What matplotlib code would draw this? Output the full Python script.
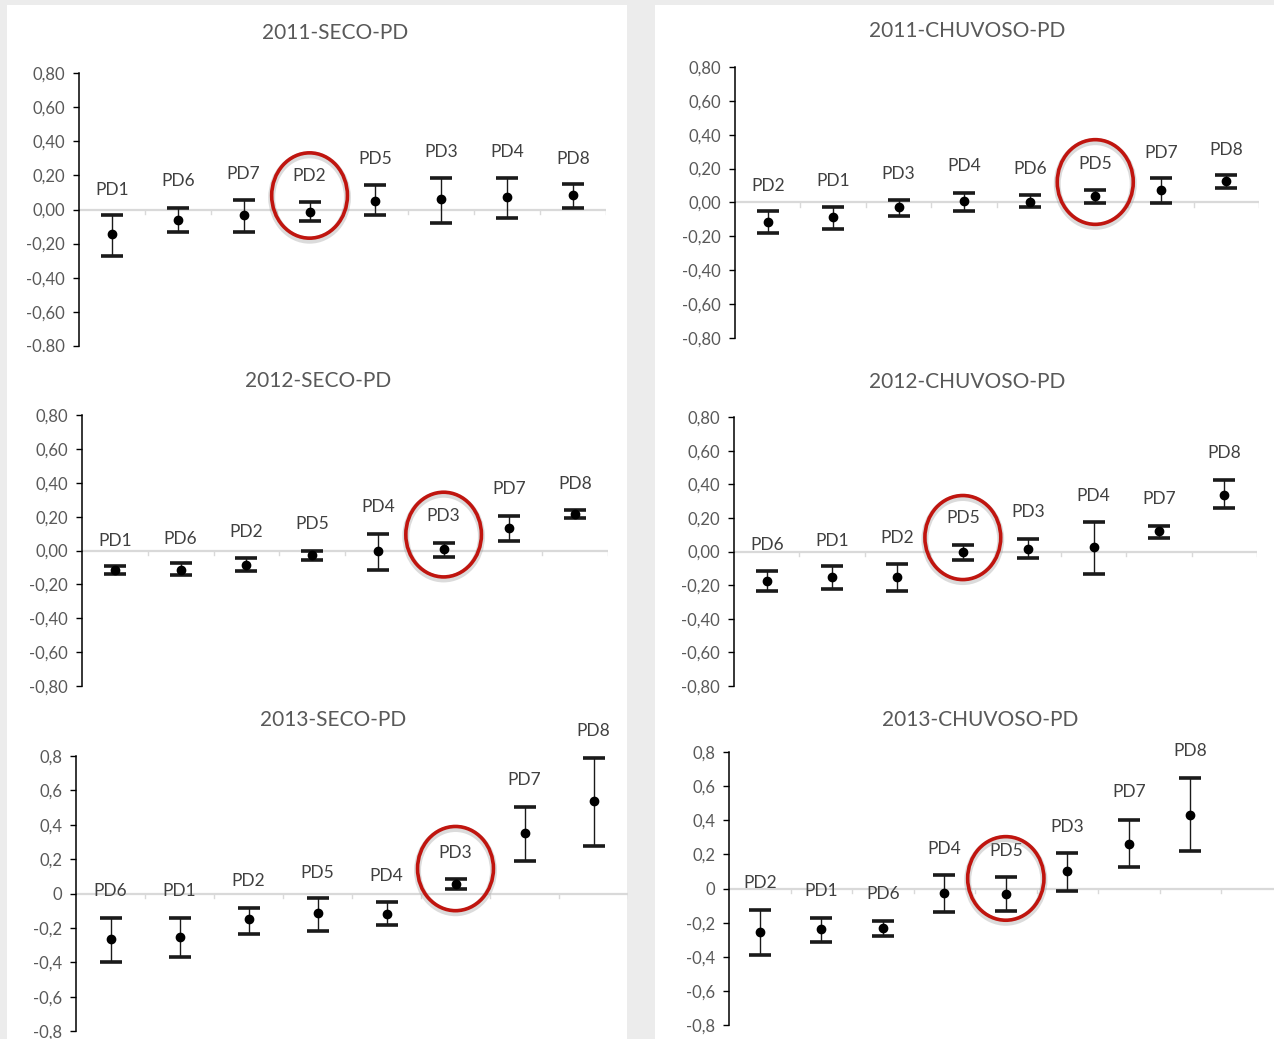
"""PD index (mean with error bars) per sampling point, dry vs. rainy season, 2011-2013.

Six Excel-style panels laid out on a slide: each point's mean is a black dot with
a min/max error bar, the PD label sits above it, and the site of interest is
ringed in red.
"""

import matplotlib

matplotlib.use("Agg")
import matplotlib.pyplot as plt
from matplotlib.patches import Ellipse, Rectangle

plt.rcParams["font.family"] = ["Lato", "DejaVu Sans"]

W, H = 1274, 1039

# ---- data -----------------------------------------------------------------
seco11_pd = ["PD1", "PD6", "PD7", "PD2", "PD5", "PD3", "PD4", "PD8"]
seco11_mean = [-0.146, -0.062, -0.033, -0.014, 0.049, 0.060, 0.074, 0.084]
seco11_hi = [-0.033, 0.008, 0.056, 0.045, 0.144, 0.187, 0.187, 0.152]
seco11_lo = [-0.270, -0.134, -0.134, -0.070, -0.035, -0.078, -0.051, 0.008]

chuv11_pd = ["PD2", "PD1", "PD3", "PD4", "PD6", "PD5", "PD7", "PD8"]
chuv11_mean = [-0.118, -0.087, -0.028, 0.008, 0.004, 0.039, 0.075, 0.126]
chuv11_hi = [-0.053, -0.024, 0.014, 0.057, 0.045, 0.073, 0.146, 0.163]
chuv11_lo = [-0.179, -0.157, -0.077, -0.053, -0.026, -0.002, -0.002, 0.083]

seco12_pd = ["PD1", "PD6", "PD2", "PD5", "PD4", "PD3", "PD7", "PD8"]
seco12_mean = [-0.114, -0.118, -0.083, -0.028, -0.004, 0.010, 0.134, 0.217]
seco12_hi = [-0.091, -0.075, -0.043, 0.000, 0.097, 0.045, 0.203, 0.239]
seco12_lo = [-0.138, -0.144, -0.122, -0.059, -0.114, -0.036, 0.059, 0.193]

chuv12_pd = ["PD6", "PD1", "PD2", "PD5", "PD3", "PD4", "PD7", "PD8"]
chuv12_mean = [-0.173, -0.151, -0.151, -0.004, 0.014, 0.024, 0.121, 0.338]
chuv12_hi = [-0.117, -0.089, -0.072, 0.038, 0.072, 0.177, 0.149, 0.427]
chuv12_lo = [-0.237, -0.221, -0.235, -0.052, -0.038, -0.131, 0.082, 0.256]

seco13_pd = ["PD6", "PD1", "PD2", "PD5", "PD4", "PD3", "PD7", "PD8"]
seco13_mean = [-0.266, -0.252, -0.151, -0.113, -0.118, 0.058, 0.350, 0.538]
seco13_hi = [-0.140, -0.140, -0.082, -0.025, -0.047, 0.082, 0.501, 0.788]
seco13_lo = [-0.398, -0.369, -0.233, -0.217, -0.184, 0.025, 0.188, 0.274]

chuv13_pd = ["PD2", "PD1", "PD6", "PD4", "PD5", "PD3", "PD7", "PD8"]
chuv13_mean = [-0.254, -0.240, -0.232, -0.029, -0.031, 0.101, 0.263, 0.429]
chuv13_hi = [-0.127, -0.172, -0.189, 0.078, 0.068, 0.207, 0.402, 0.648]
chuv13_lo = [-0.392, -0.314, -0.279, -0.139, -0.131, -0.012, 0.127, 0.219]

y_ticks = [0.8, 0.6, 0.4, 0.2, 0.0, -0.2, -0.4, -0.6, -0.8]
ticks_2dec = ["0,80", "0,60", "0,40", "0,20", "0,00", "-0,20", "-0,40", "-0,60", "-0,80"]
ticks_2dec_dot = ticks_2dec[:-1] + ["-0.80"]
ticks_1dec = ["0,8", "0,6", "0,4", "0,2", "0", "-0,2", "-0,4", "-0,6", "-0,8"]

# ---- layout (pixels) ------------------------------------------------------
# heights of the PD data labels, in data units
seco11_lab_y = [0.117, 0.165, 0.206, 0.196, 0.294, 0.337, 0.337, 0.298]
chuv11_lab_y = [0.098, 0.128, 0.171, 0.217, 0.197, 0.230, 0.295, 0.309]
seco12_lab_y = [0.059, 0.069, 0.112, 0.154, 0.256, 0.203, 0.365, 0.394]
chuv12_lab_y = [0.040, 0.064, 0.083, 0.197, 0.233, 0.332, 0.312, 0.584]
seco13_lab_y = [0.016, 0.016, 0.072, 0.122, 0.103, 0.233, 0.660, 0.946]
chuv13_lab_y = [0.033, -0.012, -0.035, 0.234, 0.222, 0.359, 0.564, 0.804]

panels = [
    # title, cats, mean, lo, hi, label y, tick labels, (left, right, top, bottom) px,
    # n slots on x, title (x, y) px, ring (index, y centre, width, height)
    ("2011-SECO-PD", seco11_pd, seco11_mean, seco11_lo, seco11_hi, seco11_lab_y,
     ticks_2dec_dot, (79, 606, 73, 346), 8, (335, 33), (3, 0.082, 1.15, 0.50)),
    ("2011-CHUVOSO-PD", chuv11_pd, chuv11_mean, chuv11_lo, chuv11_hi, chuv11_lab_y,
     ticks_2dec, (735, 1259, 67, 338), 8, (967, 31), (5, 0.121, 1.16, 0.50)),
    ("2012-SECO-PD", seco12_pd, seco12_mean, seco12_lo, seco12_hi, seco12_lab_y,
     ticks_2dec, (82, 608, 415, 686), 8, (318, 381), (5, 0.094, 1.15, 0.50)),
    ("2012-CHUVOSO-PD", chuv12_pd, chuv12_mean, chuv12_lo, chuv12_hi, chuv12_lab_y,
     ticks_2dec, (734, 1257, 417, 686), 8, (967, 382), (3, 0.083, 1.16, 0.50)),
    ("2013-SECO-PD", seco13_pd, seco13_mean, seco13_lo, seco13_hi, seco13_lab_y,
     ticks_1dec, (76, 628, 756, 1031), 8, (333, 720), (5, 0.145, 1.10, 0.49)),
    ("2013-CHUVOSO-PD", chuv13_pd, chuv13_mean, chuv13_lo, chuv13_hi, chuv13_lab_y,
     ticks_1dec, (729, 1274, 752, 1025), 8.86, (980, 720), (4, 0.059, 1.24, 0.49)),
]

GREY_TXT = "#595959"
ZERO_LINE = "#d9d9d9"
RED = "#c0150f"


def main():
    fig = plt.figure(figsize=(W / 100, H / 100), dpi=100, facecolor="#ececec")

    # white slide cards behind each column of charts
    bg = fig.add_axes([0, 0, 1, 1], zorder=-10)
    bg.set_axis_off()
    bg.set_xlim(0, W)
    bg.set_ylim(H, 0)
    for x0, x1 in [(7, 627), (655, 1274)]:
        bg.add_patch(Rectangle((x0, 5), x1 - x0, H, facecolor="white", edgecolor="none"))

    for (title, cats, mean, lo, hi, lab_y, tlabels, (l, r, t, b), nslots,
         (tx, ty), (ri, ry, rw, rh)) in panels:
        ax = fig.add_axes([l / W, 1 - b / H, (r - l) / W, (b - t) / H])
        ax.set_facecolor("none")
        x = list(range(len(cats)))
        yerr = [[m - v for m, v in zip(mean, lo)], [v - m for m, v in zip(mean, hi)]]

        ax.axhline(0, color=ZERO_LINE, lw=1.6, zorder=1)
        for k in range(1, int(nslots) + 1):
            ax.plot([k - 0.5, k - 0.5], [0, -0.025], color=ZERO_LINE, lw=1, zorder=1)

        ax.errorbar(x, mean, yerr=yerr, fmt="o", color="black", ecolor="#1a1a1a",
                    elinewidth=1.0, capsize=8, capthick=2.6, markersize=6, zorder=3)
        for i, (c, yl) in enumerate(zip(cats, lab_y)):
            ax.text(i, yl, c, ha="center", va="center", fontsize=12.5, color="#404040")

        # red ring around the highlighted point, with a soft drop shadow
        for dy, col, lw, a in [(-0.012, "#9a9a9a", 5, 0.35), (0, RED, 2.6, 1.0)]:
            ax.add_patch(Ellipse((ri, ry + dy), rw, rh, fill=False, edgecolor=col,
                                 lw=lw, alpha=a, zorder=4))

        ax.set_xlim(-0.5, nslots - 0.5)
        ax.set_ylim(-0.8, 0.8)
        ax.set_xticks([])
        ax.set_yticks(y_ticks)
        ax.set_yticklabels(tlabels)
        ax.tick_params(axis="y", direction="out", length=4, width=1, color="black",
                       labelsize=12, labelcolor=GREY_TXT, pad=6)
        for s in ("top", "right", "bottom"):
            ax.spines[s].set_visible(False)
        ax.spines["left"].set_linewidth(1.1)

        fig.text(tx / W, 1 - ty / H, title, ha="center", va="center",
                 fontsize=15, color=GREY_TXT)

    fig.savefig("out.png", dpi=100, facecolor=fig.get_facecolor())


if __name__ == "__main__":
    main()
